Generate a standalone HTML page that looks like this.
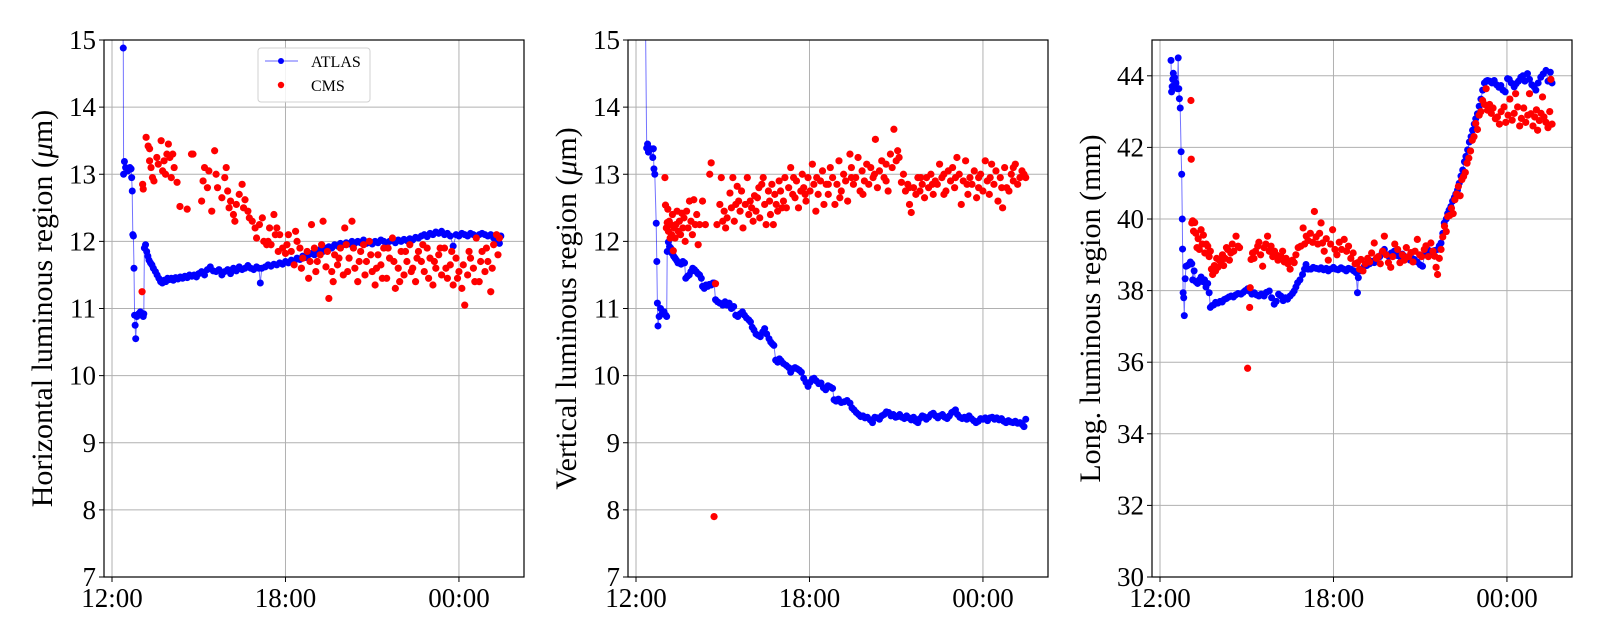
<!DOCTYPE html>
<html><head><meta charset="utf-8"><style>
html,body{margin:0;padding:0;background:#fff;}
svg{display:block;font-family:"Liberation Serif","DejaVu Serif",serif;}
</style></head><body>
<svg id="chart" width="1600" height="640" viewBox="0 0 1600 640"></svg>
<script>
const xTickLabels=["12:00","18:00","00:00"];
const xTickHours=[0,6,12];
const yTicks1=[7,8,9,10,11,12,13,14,15];
const yTicks2=[7,8,9,10,11,12,13,14,15];
const yTicks3=[30,32,34,36,38,40,42,44];
const seriesNames=["ATLAS","CMS"];
const atlasH=[[0.3,16.5],[0.39,14.88],[0.40,13.0],[0.43,13.19],[0.47,13.1],[0.55,13.05],[0.62,13.1],[0.66,13.08],[0.68,12.95],[0.70,12.75],[0.72,12.1],[0.74,12.08],[0.76,11.6],[0.78,10.9],[0.80,10.75],[0.82,10.55],[0.86,10.88],[0.92,10.92],[0.98,10.95],[1.04,10.9],[1.08,10.88],[1.10,10.92],[1.12,11.9],[1.16,11.95],[1.2,11.85],[1.24,11.78],[1.28,11.72],[1.33,11.68],[1.38,11.65],[1.43,11.6],[1.5,11.55],[1.56,11.5],[1.62,11.45],[1.68,11.4],[1.74,11.38],[1.8,11.42],[1.86,11.4],[1.92,11.45],[1.98,11.43],[2.05,11.45],[2.12,11.42],[2.2,11.46],[2.28,11.44],[2.36,11.47],[2.44,11.45],[2.52,11.48],[2.6,11.46],[2.68,11.5],[2.76,11.48],[2.84,11.5],[2.92,11.47],[3.0,11.52],[3.1,11.55],[3.2,11.5],[3.3,11.58],[3.4,11.62],[3.5,11.56],[3.6,11.55],[3.7,11.58],[3.8,11.5],[3.9,11.55],[4.0,11.58],[4.1,11.52],[4.2,11.6],[4.3,11.56],[4.4,11.62],[4.5,11.58],[4.6,11.6],[4.7,11.64],[4.8,11.6],[4.9,11.58],[5.0,11.62],[5.08,11.6],[5.13,11.38],[5.18,11.6],[5.3,11.62],[5.4,11.65],[5.5,11.63],[5.6,11.66],[5.7,11.65],[5.8,11.68],[5.9,11.66],[6.0,11.7],[6.1,11.68],[6.2,11.72],[6.3,11.7],[6.4,11.75],[6.5,11.73],[6.6,11.78],[6.7,11.76],[6.8,11.8],[6.9,11.82],[7.0,11.8],[7.1,11.85],[7.2,11.88],[7.3,11.85],[7.4,11.9],[7.5,11.92],[7.6,11.9],[7.7,11.95],[7.8,11.93],[7.9,11.97],[8.0,11.95],[8.1,11.98],[8.2,11.96],[8.3,12.0],[8.4,11.97],[8.5,12.0],[8.6,11.98],[8.7,12.02],[8.8,11.97],[8.9,12.0],[9.0,11.96],[9.1,12.0],[9.2,11.98],[9.3,12.02],[9.4,12.0],[9.5,11.97],[9.6,12.0],[9.7,12.02],[9.8,11.98],[9.9,12.02],[10.0,12.0],[10.1,12.03],[10.2,12.01],[10.3,12.04],[10.4,12.02],[10.5,12.06],[10.6,12.05],[10.7,12.08],[10.8,12.1],[10.9,12.07],[11.0,12.12],[11.1,12.1],[11.2,12.14],[11.3,12.12],[11.4,12.15],[11.5,12.1],[11.6,12.12],[11.7,12.08],[11.8,11.93],[11.9,12.1],[12.0,12.08],[12.1,12.12],[12.2,12.1],[12.3,12.08],[12.4,12.12],[12.5,12.1],[12.6,12.07],[12.7,12.1],[12.8,12.12],[12.9,12.1],[13.0,12.08],[13.1,12.1],[13.2,12.05],[13.3,12.03],[13.4,11.97],[13.45,12.08]];
const cmsH=[[1.04,11.25],[1.06,12.85],[1.08,12.78],[1.18,13.55],[1.25,13.42],[1.3,13.38],[1.3,13.2],[1.35,13.1],[1.4,12.95],[1.45,12.9],[1.55,13.25],[1.6,13.15],[1.7,13.5],[1.75,13.05],[1.8,13.2],[1.85,13.0],[1.9,13.3],[1.95,13.45],[2.0,13.25],[2.05,12.95],[2.1,13.3],[2.15,13.1],[2.25,12.88],[2.35,12.52],[2.6,12.48],[2.75,13.3],[2.8,13.3],[3.15,12.9],[3.1,12.6],[3.2,13.1],[3.3,12.8],[3.35,13.05],[3.45,12.45],[3.55,13.35],[3.6,13.0],[3.65,12.8],[3.8,12.65],[3.9,12.95],[3.95,13.1],[4.0,12.75],[4.05,12.5],[4.1,12.6],[4.2,12.4],[4.25,12.3],[4.3,12.55],[4.4,12.7],[4.5,12.85],[4.55,12.5],[4.6,12.62],[4.7,12.45],[4.75,12.35],[4.85,12.3],[4.95,12.2],[5.0,12.05],[5.1,12.25],[5.2,12.35],[5.25,12.0],[5.35,11.95],[5.4,12.0],[5.5,11.95],[5.6,12.4],[5.65,12.1],[5.7,12.2],[5.8,12.1],[5.9,11.9],[6.0,11.82],[6.1,12.1],[6.2,11.85],[6.3,11.65],[6.4,12.0],[6.5,11.9],[6.6,11.75],[6.75,11.85],[6.8,11.45],[6.9,12.25],[7.0,11.9],[7.1,11.7],[7.2,11.8],[7.3,12.3],[7.4,11.62],[7.5,11.15],[7.6,11.55],[7.7,11.8],[7.8,11.65],[7.9,11.9],[8.0,11.5],[8.05,12.2],[8.1,11.95],[8.2,11.75],[8.3,12.3],[8.4,11.6],[8.5,11.4],[8.6,11.85],[8.7,11.95],[8.8,11.7],[8.9,12.0],[9.0,11.55],[9.1,11.35],[9.2,11.8],[9.3,11.65],[9.4,11.9],[9.5,11.45],[9.6,11.75],[9.7,12.05],[9.8,11.3],[9.9,11.6],[10.0,11.85],[10.1,11.5],[10.2,11.7],[10.3,11.95],[10.4,11.6],[10.5,11.4],[10.6,11.85],[10.7,11.7],[10.8,11.55],[10.9,11.9],[11.0,11.75],[11.1,11.35],[11.2,11.6],[11.3,11.8],[11.4,11.5],[11.5,11.9],[11.6,11.45],[11.7,11.65],[11.8,11.35],[11.9,11.75],[12.0,11.55],[12.1,11.3],[12.2,11.05],[12.3,11.5],[12.4,11.75],[12.5,11.6],[12.6,12.05],[12.7,11.4],[12.8,11.85],[12.9,11.55],[13.0,11.7],[13.1,11.25],[13.2,11.95],[13.3,12.1],[13.4,12.05],[5.45,12.2],[5.75,11.85],[6.05,11.95],[6.35,12.15],[6.55,11.6],[6.85,11.7],[7.05,11.55],[7.25,11.95],[7.45,11.85],[7.65,11.4],[7.85,11.75],[8.15,11.55],[8.35,11.9],[8.55,11.7],[8.75,11.5],[8.95,11.8],[9.15,11.6],[9.35,11.45],[9.55,11.9],[9.75,11.7],[9.95,11.4],[10.15,11.85],[10.35,11.55],[10.55,11.75],[10.75,11.95],[10.95,11.45],[11.15,11.7],[11.35,11.9],[11.55,11.6],[11.75,11.85],[11.95,11.45],[12.15,11.65],[12.35,11.85],[12.55,11.4],[12.75,11.7],[12.95,11.9],[13.15,11.6],[13.35,11.8]];
const atlasV=[[0.3,16.5],[0.37,13.39],[0.4,13.45],[0.43,13.33],[0.5,13.38],[0.58,13.25],[0.6,13.38],[0.62,13.08],[0.65,13.0],[0.7,12.27],[0.72,11.7],[0.74,11.08],[0.76,10.74],[0.8,10.88],[0.85,11.0],[0.9,10.92],[0.97,10.95],[1.03,10.9],[1.06,10.88],[1.08,11.85],[1.12,11.99],[1.16,11.92],[1.2,11.9],[1.25,11.82],[1.3,11.78],[1.35,11.75],[1.4,11.72],[1.45,11.68],[1.5,11.68],[1.56,11.66],[1.62,11.7],[1.68,11.68],[1.72,11.45],[1.78,11.48],[1.84,11.5],[1.9,11.55],[1.96,11.6],[2.02,11.58],[2.08,11.55],[2.14,11.52],[2.2,11.5],[2.26,11.45],[2.3,11.33],[2.36,11.3],[2.42,11.35],[2.48,11.33],[2.54,11.36],[2.6,11.35],[2.66,11.38],[2.7,11.38],[2.75,11.13],[2.82,11.1],[2.9,11.08],[3.0,11.05],[3.08,11.1],[3.15,11.05],[3.22,11.08],[3.3,11.0],[3.38,11.03],[3.45,10.9],[3.52,10.88],[3.6,10.92],[3.68,10.95],[3.75,10.9],[3.82,10.86],[3.9,10.83],[3.96,10.8],[4.02,10.72],[4.08,10.68],[4.15,10.62],[4.22,10.6],[4.3,10.58],[4.38,10.65],[4.45,10.7],[4.52,10.62],[4.6,10.55],[4.66,10.5],[4.72,10.47],[4.77,10.45],[4.83,10.23],[4.9,10.2],[4.96,10.25],[5.02,10.22],[5.1,10.18],[5.2,10.15],[5.28,10.12],[5.35,10.05],[5.42,10.1],[5.5,10.12],[5.58,10.1],[5.65,10.08],[5.72,10.05],[5.8,9.96],[5.88,9.9],[5.95,9.84],[6.02,9.9],[6.1,9.95],[6.16,9.96],[6.24,9.92],[6.32,9.88],[6.4,9.89],[6.48,9.82],[6.56,9.79],[6.64,9.85],[6.72,9.83],[6.8,9.81],[6.85,9.64],[6.92,9.62],[7.0,9.65],[7.1,9.6],[7.2,9.61],[7.3,9.63],[7.4,9.59],[7.47,9.52],[7.54,9.49],[7.62,9.45],[7.7,9.42],[7.77,9.39],[7.85,9.4],[7.92,9.37],[8.0,9.38],[8.1,9.34],[8.18,9.3],[8.26,9.38],[8.34,9.37],[8.42,9.35],[8.5,9.4],[8.58,9.42],[8.66,9.46],[8.74,9.45],[8.82,9.4],[8.9,9.42],[8.98,9.38],[9.05,9.39],[9.12,9.42],[9.2,9.38],[9.28,9.36],[9.36,9.4],[9.44,9.37],[9.52,9.34],[9.6,9.38],[9.68,9.32],[9.75,9.3],[9.82,9.36],[9.9,9.4],[9.96,9.39],[10.04,9.35],[10.12,9.38],[10.2,9.42],[10.28,9.44],[10.36,9.4],[10.44,9.37],[10.52,9.4],[10.6,9.42],[10.68,9.38],[10.76,9.36],[10.84,9.4],[10.92,9.45],[11.0,9.47],[11.05,9.49],[11.12,9.42],[11.2,9.38],[11.28,9.36],[11.36,9.38],[11.44,9.35],[11.52,9.4],[11.6,9.36],[11.68,9.33],[11.76,9.3],[11.84,9.32],[11.92,9.36],[12.0,9.35],[12.08,9.37],[12.16,9.33],[12.24,9.37],[12.32,9.38],[12.4,9.35],[12.48,9.37],[12.56,9.34],[12.64,9.36],[12.72,9.32],[12.8,9.3],[12.88,9.33],[12.96,9.31],[13.04,9.3],[13.12,9.32],[13.2,9.29],[13.28,9.3],[13.36,9.27],[13.42,9.24],[13.48,9.35]];
const cmsV=[[1.0,12.95],[1.02,12.54],[1.05,12.2],[1.08,12.28],[1.1,12.48],[1.12,12.15],[1.15,12.3],[1.18,12.05],[1.2,12.25],[1.23,12.1],[1.26,12.4],[1.29,11.86],[1.32,12.2],[1.35,12.05],[1.38,12.25],[1.42,12.45],[1.46,12.15],[1.5,12.3],[1.54,12.1],[1.58,12.42],[1.62,12.2],[1.66,12.35],[1.7,12.0],[1.75,12.45],[1.8,12.2],[1.85,12.6],[1.9,12.3],[1.95,12.1],[2.0,12.62],[2.05,12.25],[2.1,12.4],[2.15,11.95],[2.2,12.25],[2.3,12.6],[2.4,12.25],[2.55,13.0],[2.6,13.17],[2.7,7.9],[2.75,11.37],[2.8,12.25],[2.9,12.55],[2.95,12.95],[3.0,12.3],[3.05,12.45],[3.1,12.2],[3.15,12.35],[3.25,12.72],[3.3,12.5],[3.35,12.95],[3.4,12.3],[3.5,12.82],[3.55,12.6],[3.6,12.45],[3.65,12.75],[3.7,12.2],[3.78,12.55],[3.85,12.95],[3.9,12.4],[4.0,12.5],[4.05,12.3],[4.1,12.68],[4.15,12.45],[4.2,12.65],[4.28,12.35],[4.35,12.85],[4.4,12.95],[4.45,12.55],[4.5,12.25],[4.58,12.75],[4.62,12.6],[4.7,12.85],[4.75,12.25],[4.8,12.7],[4.85,12.55],[4.9,12.45],[4.95,12.9],[5.0,12.75],[5.1,12.6],[5.15,12.95],[5.2,12.5],[5.28,12.8],[5.35,13.1],[5.42,12.7],[5.5,12.65],[5.55,12.9],[5.62,12.5],[5.7,12.75],[5.75,13.0],[5.8,12.8],[5.88,12.6],[5.95,12.95],[6.02,12.75],[6.1,13.15],[6.15,12.85],[6.22,12.45],[6.3,12.7],[6.38,12.9],[6.45,13.05],[6.5,12.55],[6.58,12.85],[6.65,12.7],[6.72,13.1],[6.8,12.95],[6.88,12.55],[6.95,12.85],[7.02,13.2],[7.1,12.75],[7.18,13.0],[7.25,12.9],[7.32,12.6],[7.4,13.3],[7.45,13.1],[7.52,12.85],[7.6,12.95],[7.68,13.25],[7.75,12.75],[7.82,13.05],[7.9,12.9],[7.98,13.15],[8.05,12.85],[8.12,13.1],[8.2,12.95],[8.28,13.52],[8.35,12.8],[8.42,13.05],[8.5,13.2],[8.58,12.95],[8.65,13.15],[8.72,12.75],[8.8,13.3],[8.86,13.1],[8.92,13.67],[9.0,13.2],[9.05,13.35],[9.1,13.25],[9.18,12.88],[9.25,13.0],[9.32,12.75],[9.4,12.85],[9.46,12.55],[9.52,12.43],[9.6,12.8],[9.68,12.7],[9.75,12.95],[9.82,12.75],[9.9,12.85],[9.98,12.65],[10.05,12.95],[10.12,12.8],[10.2,13.0],[10.28,12.7],[10.35,12.9],[10.42,12.85],[10.5,13.15],[10.58,12.95],[10.65,13.0],[10.72,12.75],[10.8,13.05],[10.88,12.9],[10.95,13.1],[11.02,12.8],[11.1,13.25],[11.18,13.0],[11.25,12.55],[11.32,12.9],[11.4,13.2],[11.48,12.7],[11.55,12.95],[11.62,12.85],[11.7,13.05],[11.78,12.65],[11.85,12.95],[11.92,13.0],[12.0,12.75],[12.08,13.2],[12.15,12.9],[12.22,12.7],[12.3,13.15],[12.38,12.85],[12.45,13.05],[12.52,12.6],[12.6,12.95],[12.68,12.5],[12.75,13.1],[12.82,12.8],[12.9,12.75],[12.98,13.0],[13.05,12.9],[13.12,13.15],[13.2,12.85],[13.28,12.95],[13.35,13.05],[13.42,13.0],[13.48,12.95],[5.05,12.5],[5.45,12.95],[5.85,12.7],[6.25,12.95],[6.65,12.85],[7.05,12.65],[7.45,12.95],[7.85,12.7],[8.25,13.0],[8.65,12.9],[9.45,12.8],[9.85,12.95],[10.25,12.85],[10.65,12.7],[11.05,12.95],[11.45,12.85],[11.85,12.8],[12.25,12.95],[12.65,12.8],[13.05,13.1],[3.45,12.55],[3.95,12.6],[4.25,12.8],[4.65,12.4]];
const atlasL=[[0.38,44.43],[0.4,43.55],[0.42,43.7],[0.44,43.9],[0.46,44.07],[0.5,43.95],[0.55,43.8],[0.6,43.64],[0.63,44.5],[0.65,43.64],[0.67,43.36],[0.7,43.1],[0.73,41.88],[0.75,41.25],[0.77,40.0],[0.78,39.16],[0.8,37.94],[0.82,37.8],[0.84,37.3],[0.87,38.33],[0.9,38.68],[0.95,38.7],[1.0,38.73],[1.05,38.8],[1.1,38.75],[1.13,38.3],[1.18,38.55],[1.24,38.25],[1.3,38.2],[1.36,38.3],[1.42,38.38],[1.48,38.25],[1.54,38.3],[1.59,38.1],[1.65,38.2],[1.7,37.94],[1.74,37.53],[1.8,37.58],[1.86,37.6],[1.92,37.67],[2.0,37.65],[2.08,37.7],[2.15,37.68],[2.22,37.75],[2.3,37.78],[2.38,37.82],[2.46,37.85],[2.54,37.82],[2.62,37.88],[2.7,37.92],[2.8,37.9],[2.88,37.95],[2.95,38.0],[3.03,38.05],[3.1,37.98],[3.18,37.9],[3.26,37.94],[3.34,37.88],[3.42,37.85],[3.5,37.9],[3.6,37.85],[3.68,37.95],[3.78,37.99],[3.86,37.8],[3.95,37.62],[4.02,37.7],[4.1,37.9],[4.18,37.85],[4.26,37.72],[4.34,37.8],[4.41,37.76],[4.5,37.85],[4.58,37.92],[4.64,37.99],[4.7,38.1],[4.76,38.22],[4.84,38.3],[4.93,38.45],[5.0,38.6],[5.05,38.73],[5.12,38.6],[5.22,38.6],[5.3,38.65],[5.4,38.62],[5.5,38.6],[5.57,38.64],[5.66,38.58],[5.75,38.62],[5.82,38.55],[5.9,38.6],[6.0,38.65],[6.08,38.6],[6.16,38.58],[6.26,38.64],[6.35,38.6],[6.44,38.55],[6.52,38.62],[6.6,38.6],[6.7,38.55],[6.78,38.5],[6.83,37.94],[6.86,38.36],[6.92,38.55],[7.0,38.6],[7.07,38.68],[7.15,38.7],[7.25,38.75],[7.32,38.82],[7.41,38.78],[7.5,38.9],[7.6,38.95],[7.68,39.05],[7.76,39.15],[7.85,39.0],[7.92,38.95],[8.0,39.05],[8.1,39.1],[8.2,38.98],[8.3,38.95],[8.38,39.02],[8.45,38.96],[8.55,38.9],[8.65,38.85],[8.72,38.9],[8.8,38.87],[8.9,38.8],[9.0,38.72],[9.08,38.68],[9.15,39.0],[9.2,39.1],[9.26,39.15],[9.35,39.05],[9.42,39.1],[9.5,39.12],[9.6,39.15],[9.66,39.25],[9.72,39.33],[9.78,39.6],[9.83,39.89],[9.9,40.0],[9.95,40.15],[10.0,40.25],[10.06,40.35],[10.12,40.5],[10.18,40.6],[10.23,40.7],[10.29,40.81],[10.35,41.0],[10.41,41.2],[10.47,41.37],[10.53,41.6],[10.58,41.75],[10.64,41.93],[10.7,42.15],[10.76,42.3],[10.81,42.48],[10.87,42.65],[10.92,42.8],[10.98,42.94],[11.04,43.15],[11.1,43.35],[11.16,43.6],[11.22,43.8],[11.28,43.85],[11.33,43.87],[11.4,43.85],[11.48,43.8],[11.56,43.87],[11.64,43.75],[11.72,43.68],[11.79,43.73],[11.86,43.6],[11.94,43.55],[12.02,43.92],[12.08,43.9],[12.15,43.8],[12.25,43.69],[12.32,43.78],[12.4,43.85],[12.48,43.96],[12.55,44.0],[12.62,43.85],[12.71,44.06],[12.78,43.9],[12.86,43.75],[12.94,43.69],[13.0,43.6],[13.08,43.8],[13.17,43.96],[13.25,44.05],[13.35,44.15],[13.42,43.85],[13.5,44.1],[13.56,43.8]];
const cmsL=[[1.07,43.31],[1.08,41.67],[1.1,39.89],[1.13,39.95],[1.16,39.66],[1.2,39.9],[1.24,39.6],[1.28,39.2],[1.32,39.45],[1.36,39.15],[1.42,39.7],[1.46,39.3],[1.5,39.55],[1.55,39.05],[1.6,39.3],[1.65,39.24],[1.7,38.95],[1.74,39.1],[1.78,38.6],[1.82,38.45],[1.88,38.7],[1.92,38.55],[1.96,38.9],[2.0,38.65],[2.05,38.85],[2.11,38.78],[2.16,39.0],[2.2,38.7],[2.25,38.9],[2.3,39.2],[2.34,39.15],[2.4,38.85],[2.45,39.05],[2.5,39.3],[2.55,39.1],[2.63,39.52],[2.7,39.24],[2.75,39.2],[3.03,35.83],[3.1,37.53],[3.12,38.08],[3.15,38.87],[3.2,39.05],[3.25,38.9],[3.3,39.1],[3.38,39.24],[3.42,39.35],[3.48,39.0],[3.55,38.68],[3.6,39.2],[3.66,39.3],[3.72,39.52],[3.78,39.1],[3.84,39.24],[3.9,38.95],[3.96,39.1],[4.02,39.0],[4.08,38.85],[4.18,38.96],[4.24,39.1],[4.3,38.8],[4.36,38.9],[4.42,38.75],[4.5,38.6],[4.58,38.85],[4.64,38.78],[4.7,39.0],[4.78,39.2],[4.87,39.24],[4.95,39.75],[5.0,39.3],[5.06,39.52],[5.12,39.4],[5.2,39.6],[5.28,39.35],[5.34,40.21],[5.4,39.5],[5.46,39.3],[5.52,39.6],[5.57,39.89],[5.62,39.33],[5.68,39.1],[5.75,39.45],[5.82,38.85],[5.9,39.3],[5.97,39.7],[6.05,39.15],[6.12,39.0],[6.2,39.35],[6.28,39.15],[6.37,39.43],[6.45,39.1],[6.52,39.24],[6.6,38.9],[6.68,39.05],[6.75,38.75],[6.83,38.78],[6.9,38.6],[6.95,38.87],[7.02,38.55],[7.1,38.75],[7.18,38.9],[7.25,38.8],[7.32,39.05],[7.41,39.33],[7.48,38.9],[7.55,38.95],[7.62,38.75],[7.7,39.1],[7.76,39.52],[7.82,39.0],[7.9,38.78],[7.98,38.65],[8.05,38.95],[8.12,39.3],[8.22,39.15],[8.3,38.78],[8.38,39.0],[8.45,38.85],[8.52,39.2],[8.6,38.95],[8.68,39.06],[8.75,38.8],[8.82,39.1],[8.9,39.43],[8.98,39.0],[9.05,38.95],[9.14,39.15],[9.2,39.25],[9.28,38.95],[9.37,39.33],[9.44,39.1],[9.5,38.96],[9.55,38.65],[9.6,38.45],[9.66,38.9],[9.72,39.15],[9.78,39.5],[9.84,39.8],[9.9,39.65],[9.95,40.07],[10.02,40.1],[10.08,40.3],[10.14,40.15],[10.2,40.54],[10.26,40.7],[10.32,40.91],[10.38,40.65],[10.44,41.1],[10.5,41.19],[10.56,41.3],[10.62,41.56],[10.68,41.7],[10.74,41.9],[10.8,42.2],[10.86,42.3],[10.92,42.67],[10.98,42.5],[11.04,42.9],[11.1,43.0],[11.16,43.31],[11.22,43.2],[11.28,43.64],[11.33,43.04],[11.4,43.2],[11.46,42.95],[11.52,43.1],[11.6,42.8],[11.67,42.85],[11.74,42.65],[11.8,43.0],[11.9,43.13],[11.96,42.7],[12.04,42.9],[12.1,43.35],[12.18,42.76],[12.25,42.95],[12.3,43.5],[12.37,43.13],[12.44,42.6],[12.5,42.81],[12.58,43.1],[12.65,42.7],[12.72,42.9],[12.78,43.5],[12.83,42.94],[12.9,42.6],[12.96,42.85],[13.02,43.05],[13.06,42.48],[13.12,42.75],[13.18,42.95],[13.23,43.41],[13.28,42.85],[13.35,42.7],[13.42,42.55],[13.48,43.0],[13.52,43.9],[13.56,42.65]];

const NS="http://www.w3.org/2000/svg";
const svg=document.getElementById('chart');
function mk(tag,attrs,parent){const e=document.createElementNS(NS,tag);for(const k in attrs)e.setAttribute(k,attrs[k]);(parent||svg).appendChild(e);return e;}

const TOP=40,BOT=577,W=420,X0=-0.277,X1=14.25;
function drawPanel(idx,left,ymin,ymax,yticks,atlas,cms,label,unit,labelX,key){
  const g=mk('g',{});
  
  
  const xs=t=>left+(t-X0)/(X1-X0)*W;
  const ys=v=>BOT-(v-ymin)/(ymax-ymin)*(BOT-TOP);
  const cp=mk('clipPath',{id:'cp'+idx},g);
  mk('rect',{x:left,y:TOP,width:W,height:BOT-TOP},cp);
  xTickHours.forEach((h,i)=>{
    const gl=mk('line',{x1:xs(h),x2:xs(h),y1:TOP,y2:BOT,stroke:'#b0b0b0','stroke-width':1},g);
    
    
    mk('line',{x1:xs(h),x2:xs(h),y1:BOT,y2:BOT+5,stroke:'#000','stroke-width':1},g);
    const tl=mk('text',{x:xs(h),y:BOT+30,'font-size':27,'text-anchor':'middle'},g);
    tl.textContent=xTickLabels[i];
    
    
  });
  yticks.forEach(v=>{
    const gl=mk('line',{x1:left,x2:left+W,y1:ys(v),y2:ys(v),stroke:'#b0b0b0','stroke-width':1},g);
    
    
    mk('line',{x1:left-5,x2:left,y1:ys(v),y2:ys(v),stroke:'#000','stroke-width':1},g);
    const tl=mk('text',{x:left-8,y:ys(v)+9,'font-size':27,'text-anchor':'end'},g);
    tl.textContent=v;
    
    
  });
  const sg=mk('g',{'clip-path':'url(#cp'+idx+')'},g);
  const pts=atlas.map(p=>xs(p[0]).toFixed(1)+','+ys(p[1]).toFixed(1)).join(' ');
  const pl=mk('polyline',{points:pts,fill:'none',stroke:'#0000ff','stroke-opacity':0.55,'stroke-width':1},sg);
  
  
  atlas.forEach(p=>{
    const c=mk('circle',{cx:xs(p[0]),cy:ys(p[1]),r:3.5,fill:'#0000ff'},sg);
    
    
  });
  cms.forEach(p=>{
    const c=mk('circle',{cx:xs(p[0]),cy:ys(p[1]),r:3.6,fill:'#ff0000'},sg);
    
    
  });
  const fr=mk('rect',{x:left,y:TOP,width:W,height:BOT-TOP,fill:'none',stroke:'#000','stroke-width':1.2},g);
  
  
  const yl=mk('text',{x:labelX,y:(TOP+BOT)/2,'font-size':30,'text-anchor':'middle',transform:'rotate(-90 '+labelX+' '+(TOP+BOT)/2+')'},g);
  
  
  const t1=mk('tspan',{},yl); t1.textContent=label+' (';
  if(unit==='um'){const t2=mk('tspan',{'font-style':'italic'},yl);t2.textContent='μ';const t3=mk('tspan',{},yl);t3.textContent='m)';}
  else {const t3=mk('tspan',{},yl);t3.textContent='mm)';}
}
drawPanel(1,104,7,15,yTicks1,atlasH,cmsH,'Horizontal luminous region','um',52,'horizontal');
drawPanel(2,628,7,15,yTicks2,atlasV,cmsV,'Vertical luminous region','um',576,'vertical');
drawPanel(3,1152,30,45,yTicks3,atlasL,cmsL,'Long. luminous region','mm',1100,'longitudinal');

const lg=mk('g',{});


mk('rect',{x:258,y:48,width:112,height:54,rx:3,fill:'#fff','fill-opacity':0.85,stroke:'#d0d0d0'},lg);
mk('line',{x1:265,x2:298,y1:61,y2:61,stroke:'#0000ff','stroke-opacity':0.6,'stroke-width':1},lg);
mk('circle',{cx:281,cy:61,r:3,fill:'#0000ff'},lg);
const la=mk('text',{x:311,y:67,'font-size':16},lg);la.textContent=seriesNames[0];


mk('circle',{cx:281,cy:85,r:3.2,fill:'#ff0000'},lg);
const lc=mk('text',{x:311,y:91,'font-size':16},lg);lc.textContent=seriesNames[1];


</script>
</body></html>
